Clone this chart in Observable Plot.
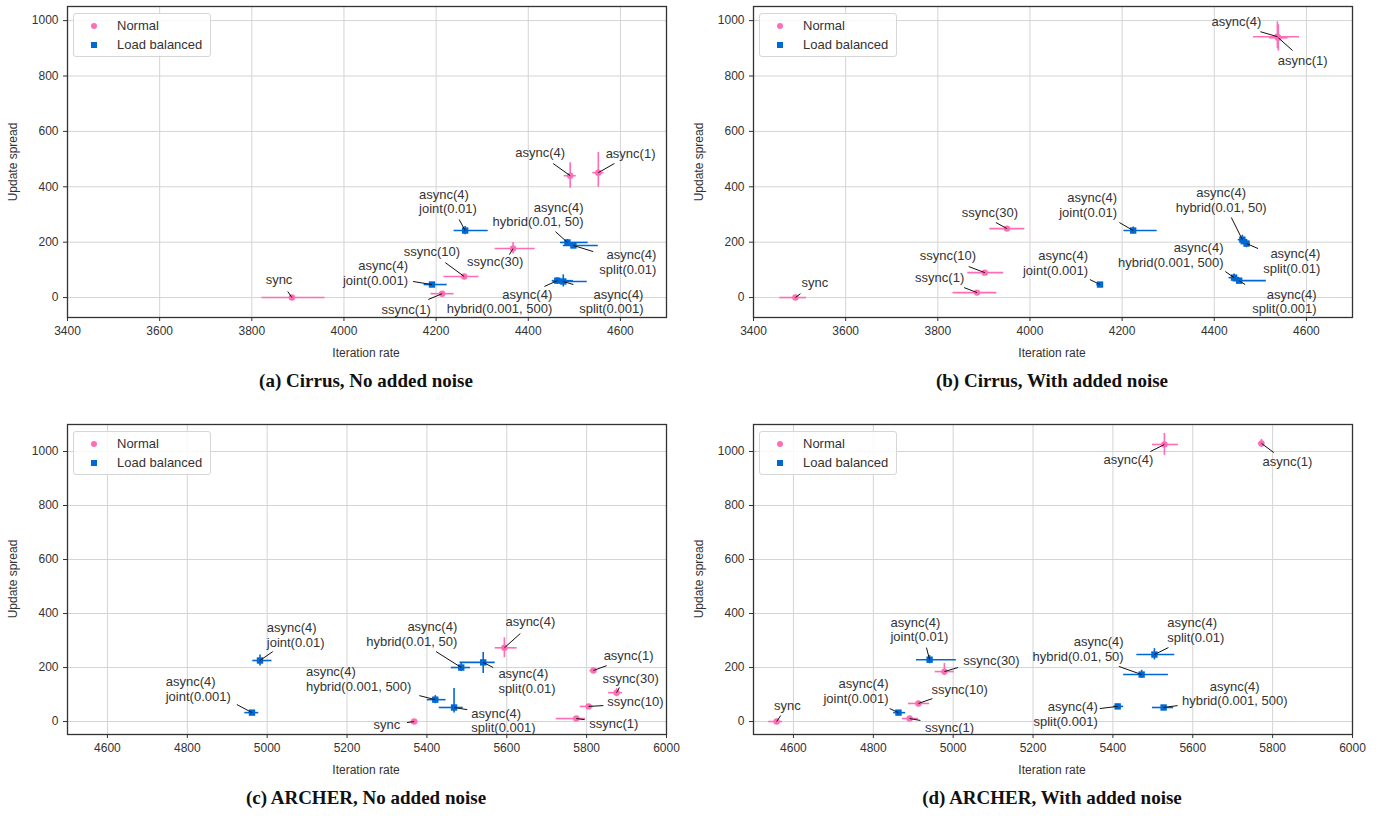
<!DOCTYPE html>
<html>
<head>
<meta charset="utf-8">
<script src="https://cdn.jsdelivr.net/npm/d3@7"></script>
<script src="https://cdn.jsdelivr.net/npm/@observablehq/plot@0.6"></script>
<style>
  body { margin: 0; background: #fff; width: 1392px; height: 818px; position: relative; overflow: hidden; font-family: "Liberation Sans", Arial, sans-serif; }
  .panel { position: absolute; }
  .legend { position: absolute; width: 136px; height: 42px; border: 1px solid #d6d6d6; border-radius: 3px; background: rgba(255,255,255,0.85); font-size: 13px; color: #333; }
  .legend .row { position: absolute; left: 0; height: 18px; line-height: 18px; }
  .legend .sw { position: absolute; left: 17px; top: 6px; width: 6px; height: 6px; }
  .legend .lb { position: absolute; left: 43px; top: 0; white-space: nowrap; }
  .ylab { position: absolute; font-size: 12px; color: #333; transform: translate(-50%, -50%) rotate(-90deg); white-space: nowrap; }
  .xlab { position: absolute; font-size: 12px; color: #333; transform: translate(-50%, -50%); white-space: nowrap; }
  .cap { position: absolute; font-family: "Liberation Serif", "DejaVu Serif", serif; font-weight: bold; font-size: 19px; color: #111; transform: translate(-50%, -50%); white-space: nowrap; }
</style>
</head>
<body>
<script>
// ---------- data ----------
const groups = ["Normal", "Load balanced"];
const groupColors = ["#ff6eb4", "#0068d2"];
const xTicksCirrus = [3400, 3600, 3800, 4000, 4200, 4400, 4600];
const xTicksArcher = [4600, 4800, 5000, 5200, 5400, 5600, 5800, 6000];
const yTicks = [0, 200, 400, 600, 800, 1000];
const captions = ["(a) Cirrus, No added noise", "(b) Cirrus, With added noise", "(c) ARCHER, No added noise", "(d) ARCHER, With added noise"];

// (a) Cirrus, no added noise
const cirrusNoNoise = [
  {label: "sync", group: "Normal", x: 3887, xlo: 3822, xhi: 3959, y: 0, ylo: -5, yhi: 5},
  {label: "ssync(1)", group: "Normal", x: 4213, xlo: 4189, xhi: 4239, y: 14, ylo: 8, yhi: 20},
  {label: "ssync(10)", group: "Normal", x: 4261, xlo: 4217, xhi: 4293, y: 76, ylo: 68, yhi: 84},
  {label: "ssync(30)", group: "Normal", x: 4367, xlo: 4328, xhi: 4415, y: 177, ylo: 157, yhi: 199},
  {label: "async(4)", group: "Normal", x: 4491, xlo: 4478, xhi: 4504, y: 440, ylo: 395, yhi: 487},
  {label: "async(1)", group: "Normal", x: 4552, xlo: 4540, xhi: 4564, y: 451, ylo: 398, yhi: 524},
  {label: "async(4)\njoint(0.001)", group: "Load balanced", x: 4191, xlo: 4174, xhi: 4224, y: 47, ylo: 41, yhi: 53},
  {label: "async(4)\njoint(0.01)", group: "Load balanced", x: 4263, xlo: 4239, xhi: 4313, y: 242, ylo: 227, yhi: 257},
  {label: "async(4)\nhybrid(0.01, 50)", group: "Load balanced", x: 4485, xlo: 4470, xhi: 4530, y: 199, ylo: 189, yhi: 210},
  {label: "async(4)\nsplit(0.01)", group: "Load balanced", x: 4498, xlo: 4476, xhi: 4552, y: 188, ylo: 178, yhi: 198},
  {label: "async(4)\nhybrid(0.001, 500)", group: "Load balanced", x: 4463, xlo: 4452, xhi: 4498, y: 61, ylo: 50, yhi: 72},
  {label: "async(4)\nsplit(0.001)", group: "Load balanced", x: 4476, xlo: 4454, xhi: 4528, y: 58, ylo: 38, yhi: 82}
];
const cirrusNoNoiseNotes = [
  {tx: 3859, ty: 65, align: "middle", ax: 3878, ay: 22},
  {tx: 4135, ty: -43, align: "middle", ax: 4183, ay: -7},
  {tx: 4191, ty: 166, align: "middle", ax: 4220, ay: 126},
  {tx: 4328, ty: 130, align: "middle", ax: 4359, ay: 155},
  {tx: 4426, ty: 523, align: "middle", ax: 4454, ay: 484},
  {tx: 4622, ty: 520, align: "middle", ax: 4587, ay: 484},
  {tx: 4139, ty: 90, align: "end", ax: 4150, ay: 58},
  {tx: 4163, ty: 348, align: "start", ax: 4250, ay: 282},
  {tx: 4520, ty: 301, align: "end", ax: 4459, ay: 238},
  {tx: 4678, ty: 128, align: "end", ax: 4541, ay: 166},
  {tx: 4452, ty: -14, align: "end", ax: 4435, ay: 40},
  {tx: 4650, ty: -14, align: "end", ax: 4498, ay: 47}
];

// (b) Cirrus, with added noise
const cirrusNoise = [
  {label: "sync", group: "Normal", x: 3491, xlo: 3457, xhi: 3515, y: 0, ylo: -5, yhi: 5},
  {label: "ssync(1)", group: "Normal", x: 3885, xlo: 3833, xhi: 3928, y: 18, ylo: 12, yhi: 24},
  {label: "ssync(10)", group: "Normal", x: 3902, xlo: 3865, xhi: 3943, y: 90, ylo: 84, yhi: 96},
  {label: "ssync(30)", group: "Normal", x: 3950, xlo: 3913, xhi: 3989, y: 249, ylo: 243, yhi: 255},
  {label: "async(4)", group: "Normal", x: 4537, xlo: 4485, xhi: 4585, y: 942, ylo: 899, yhi: 996},
  {label: "async(1)", group: "Normal", x: 4539, xlo: 4520, xhi: 4560, y: 938, ylo: 890, yhi: 985},
  {label: "async(4)\njoint(0.001)", group: "Load balanced", x: 4152, xlo: 4145, xhi: 4159, y: 47, ylo: 41, yhi: 53},
  {label: "async(4)\njoint(0.01)", group: "Load balanced", x: 4224, xlo: 4204, xhi: 4276, y: 242, ylo: 230, yhi: 255},
  {label: "async(4)\nhybrid(0.01, 50)", group: "Load balanced", x: 4461, xlo: 4452, xhi: 4470, y: 209, ylo: 195, yhi: 225},
  {label: "async(4)\nsplit(0.01)", group: "Load balanced", x: 4470, xlo: 4458, xhi: 4478, y: 195, ylo: 180, yhi: 210},
  {label: "async(4)\nhybrid(0.001, 500)", group: "Load balanced", x: 4443, xlo: 4432, xhi: 4455, y: 72, ylo: 60, yhi: 85},
  {label: "async(4)\nsplit(0.001)", group: "Load balanced", x: 4454, xlo: 4441, xhi: 4513, y: 61, ylo: 52, yhi: 70}
];
const cirrusNoiseNotes = [
  {tx: 3533, ty: 54, align: "middle", ax: 3502, ay: 14},
  {tx: 3804, ty: 72, align: "middle", ax: 3857, ay: 36},
  {tx: 3822, ty: 152, align: "middle", ax: 3867, ay: 112},
  {tx: 3913, ty: 307, align: "middle", ax: 3926, ay: 271},
  {tx: 4448, ty: 996, align: "middle", ax: 4500, ay: 960},
  {tx: 4592, ty: 856, align: "middle", ax: 4570, ay: 892},
  {tx: 4126, ty: 126, align: "end", ax: 4130, ay: 65},
  {tx: 4189, ty: 334, align: "end", ax: 4194, ay: 271},
  {tx: 4415, ty: 354, align: "middle", ax: 4437, ay: 289},
  {tx: 4630, ty: 132, align: "end", ax: 4495, ay: 177},
  {tx: 4420, ty: 155, align: "end", ax: 4424, ay: 94},
  {tx: 4622, ty: -14, align: "end", ax: 4467, ay: 47}
];

// (c) ARCHER, no added noise
const archerNoNoise = [
  {label: "sync", group: "Normal", x: 5368, xlo: 5358, xhi: 5378, y: 0, ylo: -5, yhi: 5},
  {label: "ssync(1)", group: "Normal", x: 5774, xlo: 5724, xhi: 5797, y: 11, ylo: 6, yhi: 16},
  {label: "ssync(10)", group: "Normal", x: 5805, xlo: 5784, xhi: 5817, y: 56, ylo: 50, yhi: 62},
  {label: "ssync(30)", group: "Normal", x: 5875, xlo: 5855, xhi: 5890, y: 107, ylo: 92, yhi: 122},
  {label: "async(4)", group: "Normal", x: 5594, xlo: 5571, xhi: 5626, y: 273, ylo: 236, yhi: 310},
  {label: "async(1)", group: "Normal", x: 5817, xlo: 5808, xhi: 5826, y: 189, ylo: 182, yhi: 196},
  {label: "async(4)\njoint(0.001)", group: "Load balanced", x: 4962, xlo: 4944, xhi: 4979, y: 33, ylo: 28, yhi: 38},
  {label: "async(4)\njoint(0.01)", group: "Load balanced", x: 4982, xlo: 4964, xhi: 5012, y: 226, ylo: 206, yhi: 246},
  {label: "async(4)\nhybrid(0.001, 500)", group: "Load balanced", x: 5421, xlo: 5401, xhi: 5448, y: 81, ylo: 66, yhi: 96},
  {label: "async(4)\nsplit(0.001)", group: "Load balanced", x: 5468, xlo: 5431, xhi: 5491, y: 52, ylo: 32, yhi: 122},
  {label: "async(4)\nhybrid(0.01, 50)", group: "Load balanced", x: 5486, xlo: 5461, xhi: 5509, y: 200, ylo: 185, yhi: 215},
  {label: "async(4)\nsplit(0.01)", group: "Load balanced", x: 5541, xlo: 5483, xhi: 5571, y: 219, ylo: 178, yhi: 256}
];
const archerNoNoiseNotes = [
  {tx: 5300, ty: -11, align: "middle", ax: 5350, ay: -4},
  {tx: 5868, ty: -7, align: "middle", ax: 5795, ay: 7},
  {tx: 5922, ty: 74, align: "middle", ax: 5842, ay: 59},
  {tx: 5910, ty: 159, align: "middle", ax: 5882, ay: 126},
  {tx: 5659, ty: 370, align: "middle", ax: 5634, ay: 326},
  {tx: 5905, ty: 244, align: "middle", ax: 5850, ay: 207},
  {tx: 4746, ty: 122, align: "start", ax: 4924, ay: 63},
  {tx: 4999, ty: 322, align: "start", ax: 5014, ay: 259},
  {tx: 5097, ty: 159, align: "start", ax: 5381, ay: 96},
  {tx: 5511, ty: 4, align: "start", ax: 5501, ay: 44},
  {tx: 5476, ty: 324, align: "end", ax: 5423, ay: 259},
  {tx: 5579, ty: 151, align: "start", ax: 5566, ay: 200}
];

// (d) ARCHER, with added noise
const archerNoise = [
  {label: "sync", group: "Normal", x: 4558, xlo: 4538, xhi: 4573, y: 0, ylo: -5, yhi: 5},
  {label: "ssync(1)", group: "Normal", x: 4891, xlo: 4873, xhi: 4913, y: 11, ylo: 6, yhi: 16},
  {label: "ssync(10)", group: "Normal", x: 4913, xlo: 4888, xhi: 4941, y: 67, ylo: 61, yhi: 73},
  {label: "ssync(30)", group: "Normal", x: 4978, xlo: 4955, xhi: 5003, y: 185, ylo: 170, yhi: 215},
  {label: "async(4)", group: "Normal", x: 5529, xlo: 5499, xhi: 5564, y: 1026, ylo: 985, yhi: 1067},
  {label: "async(1)", group: "Normal", x: 5772, xlo: 5764, xhi: 5780, y: 1030, ylo: 1015, yhi: 1045},
  {label: "async(4)\njoint(0.001)", group: "Load balanced", x: 4863, xlo: 4851, xhi: 4881, y: 33, ylo: 28, yhi: 38},
  {label: "async(4)\njoint(0.01)", group: "Load balanced", x: 4941, xlo: 4908, xhi: 5008, y: 229, ylo: 214, yhi: 244},
  {label: "async(4)\nsplit(0.01)", group: "Load balanced", x: 5504, xlo: 5460, xhi: 5555, y: 248, ylo: 228, yhi: 270},
  {label: "async(4)\nhybrid(0.01, 50)", group: "Load balanced", x: 5472, xlo: 5427, xhi: 5539, y: 174, ylo: 160, yhi: 190},
  {label: "async(4)\nsplit(0.001)", group: "Load balanced", x: 5412, xlo: 5402, xhi: 5427, y: 56, ylo: 48, yhi: 64},
  {label: "async(4)\nhybrid(0.001, 500)", group: "Load balanced", x: 5527, xlo: 5499, xhi: 5552, y: 52, ylo: 46, yhi: 58}
];
const archerNoiseNotes = [
  {tx: 4585, ty: 59, align: "middle", ax: 4568, ay: 22},
  {tx: 4991, ty: -22, align: "middle", ax: 4918, ay: 4},
  {tx: 5016, ty: 118, align: "middle", ax: 4948, ay: 85},
  {tx: 5096, ty: 226, align: "middle", ax: 5012, ay: 200},
  {tx: 5439, ty: 970, align: "middle", ax: 5494, ay: 1000},
  {tx: 5837, ty: 963, align: "middle", ax: 5803, ay: 996},
  {tx: 4838, ty: 115, align: "end", ax: 4841, ay: 48},
  {tx: 4843, ty: 341, align: "start", ax: 4933, ay: 274},
  {tx: 5536, ty: 339, align: "start", ax: 5539, ay: 274},
  {tx: 5427, ty: 269, align: "end", ax: 5415, ay: 204},
  {tx: 5362, ty: 28, align: "end", ax: 5367, ay: 48},
  {tx: 5705, ty: 104, align: "middle", ax: 5562, ay: 59}
];

// ---------- drawing ----------
const color = Plot.scale({color: {domain: groups, range: groupColors}});

function panel(points, notes, xDomain, yDomain, xTicks, left, top, height, marginBottom, caption) {
  const data = points.map((p, i) => ({...p, ...notes[i]}));
  const normal = data.filter(d => d.group === groups[0]);
  const lb = data.filter(d => d.group === groups[1]);
  const fill = d => color.apply(d.group);
  const marks = [
    Plot.ruleX(xTicks, {stroke: "#d4d4d4", strokeWidth: 1}),
    Plot.ruleY(yTicks, {stroke: "#d4d4d4", strokeWidth: 1}),
    Plot.ruleY(data, {y: "y", x1: "xlo", x2: "xhi", stroke: fill, strokeWidth: 1.6}),
    Plot.ruleX(data, {x: "x", y1: "ylo", y2: "yhi", stroke: fill, strokeWidth: 1.6}),
    Plot.dot(normal, {x: "x", y: "y", r: 3.2, fill: groupColors[0], symbol: "circle"}),
    Plot.dot(lb, {x: "x", y: "y", r: 3.6, fill: groupColors[1], symbol: "square"}),
    Plot.link(data, {x1: "ax", y1: "ay", x2: "x", y2: "y", stroke: "#111", strokeWidth: 1}),
    ...["start", "middle", "end"].map(a => Plot.text(data.filter(d => d.align === a), {
      x: "tx", y: "ty", text: "label", textAnchor: a, lineAnchor: "middle", lineHeight: 1.13,
      fontSize: 13, fill: "#333"
    })),
    Plot.axisX({ticks: xTicks, tickFormat: d => String(d), tickSize: 4, tickPadding: 5, label: null, fontSize: 12, stroke: "#333"}),
    Plot.axisY({ticks: yTicks, tickFormat: d => String(d), tickSize: 4, tickPadding: 5, label: null, fontSize: 12, stroke: "#333"}),
    Plot.frame({stroke: "#333", strokeWidth: 1.3})
  ];
  const chart = Plot.plot({
    width: 696, height, marginLeft: 67, marginRight: 30, marginTop: 6, marginBottom,
    x: {domain: xDomain},
    y: {domain: yDomain},
    style: {fontFamily: "Liberation Sans, Arial, sans-serif", fontSize: "12px", color: "#333", background: "transparent"},
    marks
  });
  const wrap = document.createElement("div");
  wrap.className = "panel";
  wrap.style.left = left + "px";
  wrap.style.top = top + "px";
  wrap.appendChild(chart);
  document.body.appendChild(wrap);

  const plotTop = top + 6, plotBottom = top + height - marginBottom;
  // legend
  const lg = document.createElement("div");
  lg.className = "legend";
  lg.style.left = (left + 73) + "px";
  lg.style.top = (plotTop + 7) + "px";
  groups.forEach((g, i) => {
    const row = document.createElement("div");
    row.className = "row";
    row.style.top = (3 + i * 19) + "px";
    const sw = document.createElement("div");
    sw.className = "sw";
    sw.style.background = groupColors[i];
    if (i === 0) sw.style.borderRadius = "50%";
    const lb2 = document.createElement("div");
    lb2.className = "lb";
    lb2.textContent = g;
    row.appendChild(sw); row.appendChild(lb2);
    lg.appendChild(row);
  });
  document.body.appendChild(lg);

  const yl = document.createElement("div");
  yl.className = "ylab";
  yl.textContent = "Update spread";
  yl.style.left = (left + 13) + "px";
  yl.style.top = ((plotTop + plotBottom) / 2) + "px";
  document.body.appendChild(yl);

  const xl = document.createElement("div");
  xl.className = "xlab";
  xl.textContent = "Iteration rate";
  xl.style.left = (left + 366) + "px";
  xl.style.top = (plotBottom + 36) + "px";
  document.body.appendChild(xl);

  const cp = document.createElement("div");
  cp.className = "cap";
  cp.textContent = caption;
  cp.style.left = (left + 366) + "px";
  cp.style.top = (plotBottom + 64) + "px";
  document.body.appendChild(cp);
}

panel(cirrusNoNoise, cirrusNoNoiseNotes, [3400, 4700], [-72, 1051], xTicksCirrus, 0, 0, 362, 45, captions[0]);
panel(cirrusNoise, cirrusNoiseNotes, [3400, 4700], [-72, 1051], xTicksCirrus, 686, 0, 362, 45, captions[1]);
panel(archerNoNoise, archerNoNoiseNotes, [4500, 6000], [-48, 1100], xTicksArcher, 0, 418, 362, 46, captions[2]);
panel(archerNoise, archerNoiseNotes, [4500, 6000], [-48, 1100], xTicksArcher, 686, 418, 362, 46, captions[3]);
</script>
</body>
</html>
